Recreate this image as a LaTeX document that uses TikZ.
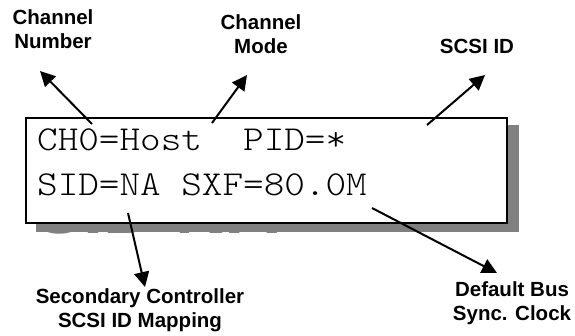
\documentclass[tikz,border=0pt]{standalone}
\usepackage{fontspec}
\usepackage{graphicx}
\usetikzlibrary{arrows.meta}
\newfontfamily\labelfont{Liberation Sans}[BoldFont={Liberation Sans Bold}]
\definecolor{shadowgrey}{HTML}{808080}
\tikzset{
  lbl/.style={font=\labelfont\bfseries\fontsize{20.5}{23.5}\selectfont, align=center, inner sep=0pt, anchor=base},
  pointer/.style={line width=2pt, -{Triangle[length=15pt,width=15pt]}},
  lcdtext/.style={inner sep=0pt, anchor=base west},
}
\newcommand{\lcdline}[1]{\scalebox{1.121}[1]{\fontsize{35}{40}\ttfamily\fontseries{l}\selectfont #1}}
\begin{document}
\begin{tikzpicture}[x=1pt,y=-1pt]
\useasboundingbox (0,0) rectangle (575,335);
% ghost text behind the display
\node[inner sep=0pt, anchor=base west, text=shadowgrey, font=\labelfont\bfseries\fontsize{72}{80}\selectfont] (ghost) at (35,233) {SID NA};
% shadow and display
\fill[shadowgrey] (36,125) rectangle (519,232);
\node[draw, line width=2pt, fill=white, minimum width=481pt, minimum height=105pt, inner sep=0pt, anchor=north west] (lcd) at (25,117) {};
\node[lcdtext] (line1) at (37,150) {\lcdline{CH0=Host\ \ PID=*}};
\node[lcdtext] (line2) at (37,195) {\lcdline{SID=NA SXF=80.0M}};
% labels (base anchor = baseline of the last line)
\node[lbl] (chnum) at (53,48) {Channel\\Number};
\node[lbl] (chmode) at (261,53) {Channel\\Mode};
\node[lbl] (scsiid) at (477,53) {SCSI ID};
\node[lbl] (secid) at (140,327) {Secondary Controller\\SCSI ID Mapping};
\node[lbl] (clock) at (512,320) {Default Bus\\Sync. Clock};
% arrow ends
\coordinate (t1) at (92,124);  \coordinate (h1) at (40,71);
\coordinate (t2) at (212,123); \coordinate (h2) at (247,75);
\coordinate (t3) at (427,125); \coordinate (h3) at (485,75);
\coordinate (t4) at (128,213); \coordinate (h4) at (145,287);
\coordinate (t5) at (372,208); \coordinate (h5) at (497,273);
\draw[pointer] (t1) -- (h1);
\draw[pointer] (t2) -- (h2);
\draw[pointer] (t3) -- (h3);
\draw[pointer] (t4) -- (h4);
\draw[pointer] (t5) -- (h5);
\end{tikzpicture}
\end{document}
